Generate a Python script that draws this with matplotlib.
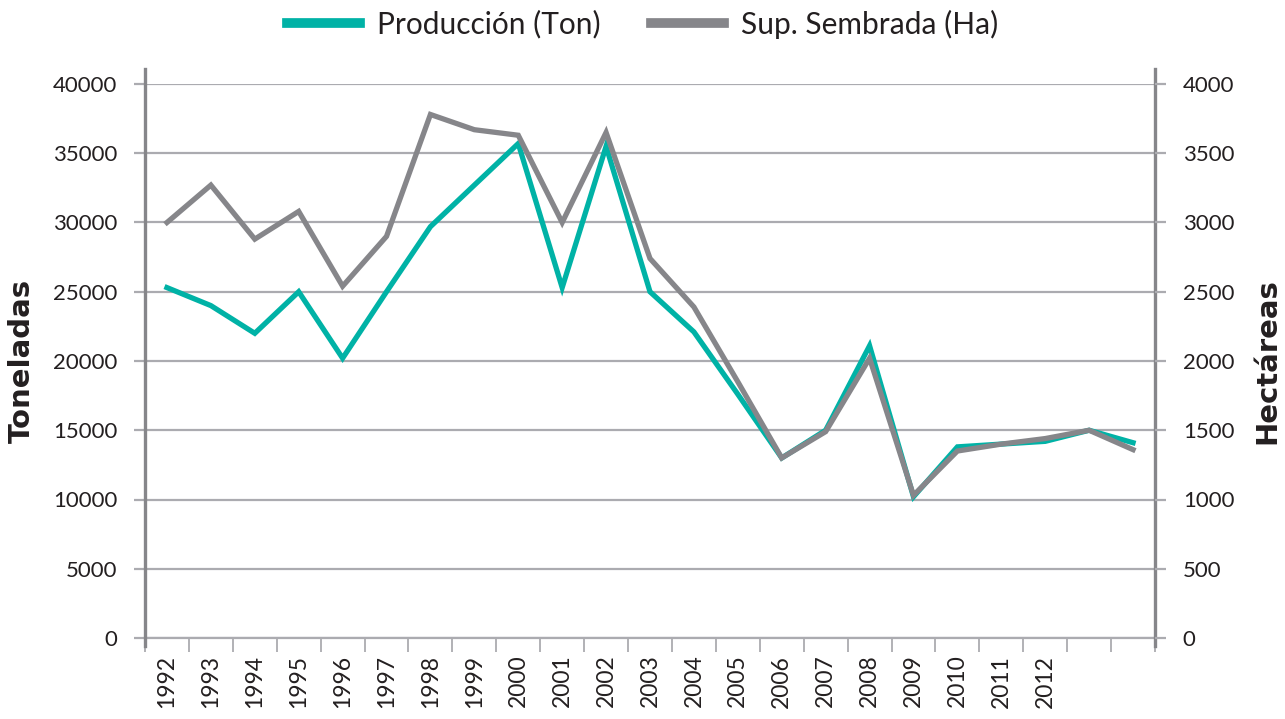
import matplotlib
matplotlib.use('Agg')
import matplotlib.pyplot as plt
from matplotlib.lines import Line2D

plt.rcParams['font.family'] = ['Lato', 'DejaVu Sans']

# categorias (las dos ultimas sin etiqueta en el original)
years = ['1992', '1993', '1994', '1995', '1996', '1997', '1998', '1999', '2000',
         '2001', '2002', '2003', '2004', '2005', '2006', '2007', '2008', '2009',
         '2010', '2011', '2012', '', '']

produccion_ton = [25300, 24000, 22000, 25000, 20200, 25000, 29700, 32700, 35700,
                  25300, 35500, 25000, 22100, 17600, 13000, 15000, 21100, 10200,
                  13800, 14000, 14200, 15000, 14100]

sembrada_ha = [3000, 3270, 2880, 3080, 2540, 2900, 3780, 3670, 3630,
               3000, 3650, 2740, 2390, 1850, 1300, 1490, 2020, 1030,
               1350, 1400, 1440, 1500, 1360]

left_ticks = list(range(0, 40001, 5000))
right_ticks = list(range(0, 4001, 500))

teal = '#00b2a6'
gray = '#86868a'
grid_c = '#ababb0'
text_c = '#231f20'

fig = plt.figure(figsize=(12.85, 7.19), dpi=100)
ax = fig.add_axes([145/1285, 1-638/719, 1010/1285, 554/719])
ax2 = ax.twinx()

x = list(range(len(years)))
ax.plot(x, produccion_ton, color=teal, lw=3.8, solid_joinstyle='miter', zorder=3)
ax2.plot(x, sembrada_ha, color=gray, lw=3.8, solid_joinstyle='miter', zorder=3)

ax.set_xlim(-0.5, len(years) - 0.5)
ax.set_ylim(0, 40000)
ax2.set_ylim(0, 4000)
ax.set_yticks(left_ticks)
ax2.set_yticks(right_ticks)
ax.set_yticklabels([str(v) for v in left_ticks])
ax2.set_yticklabels([str(v) for v in right_ticks])

ax.set_xticks(x)
ax.set_xticklabels(years, rotation=90)
ax.set_xticks([i - 0.5 for i in range(len(years) + 1)], minor=True)
ax.tick_params(axis='x', which='major', length=0, pad=12, labelsize=16.5, labelcolor=text_c)
ax.tick_params(axis='x', which='minor', length=10, width=1.3, color=grid_c)

ax.yaxis.grid(True, color=grid_c, lw=1.6)
ax.set_axisbelow(True)
ax.tick_params(axis='y', length=8, width=1.6, color=grid_c, pad=12, labelsize=16, labelcolor=text_c)
ax2.tick_params(axis='y', length=8, width=1.6, color=grid_c, pad=12, labelsize=16, labelcolor=text_c)

for a in (ax, ax2):
    for s in a.spines.values():
        s.set_visible(False)
ax.spines['bottom'].set_visible(True)
ax.spines['bottom'].set_color(grid_c)
ax.spines['bottom'].set_linewidth(1.6)

# ejes verticales que sobresalen un poco arriba y abajo
for xs in (0, 1):
    ax.add_line(Line2D([xs, xs], [-0.015, 1.027], transform=ax.transAxes,
                       color=gray, lw=2.4, clip_on=False, zorder=5))

ax.set_ylabel('Toneladas', fontsize=21, fontweight='bold', color=text_c,
              family='DejaVu Sans', labelpad=12)
ax2.set_ylabel('Hectáreas', fontsize=21, fontweight='bold', color=text_c,
               family='DejaVu Sans', rotation=90, labelpad=14)

handles = [Line2D([], [], color=teal, lw=7), Line2D([], [], color=gray, lw=7)]
fig.legend(handles, ['Producción (Ton)', 'Sup. Sembrada (Ha)'], loc='center',
           bbox_to_anchor=(0.5, 1 - 24/719), ncol=2, frameon=False, fontsize=21.5,
           handlelength=2.45, handletextpad=0.55, columnspacing=1.7, labelcolor=text_c)

fig.savefig('out.png', dpi=100)
